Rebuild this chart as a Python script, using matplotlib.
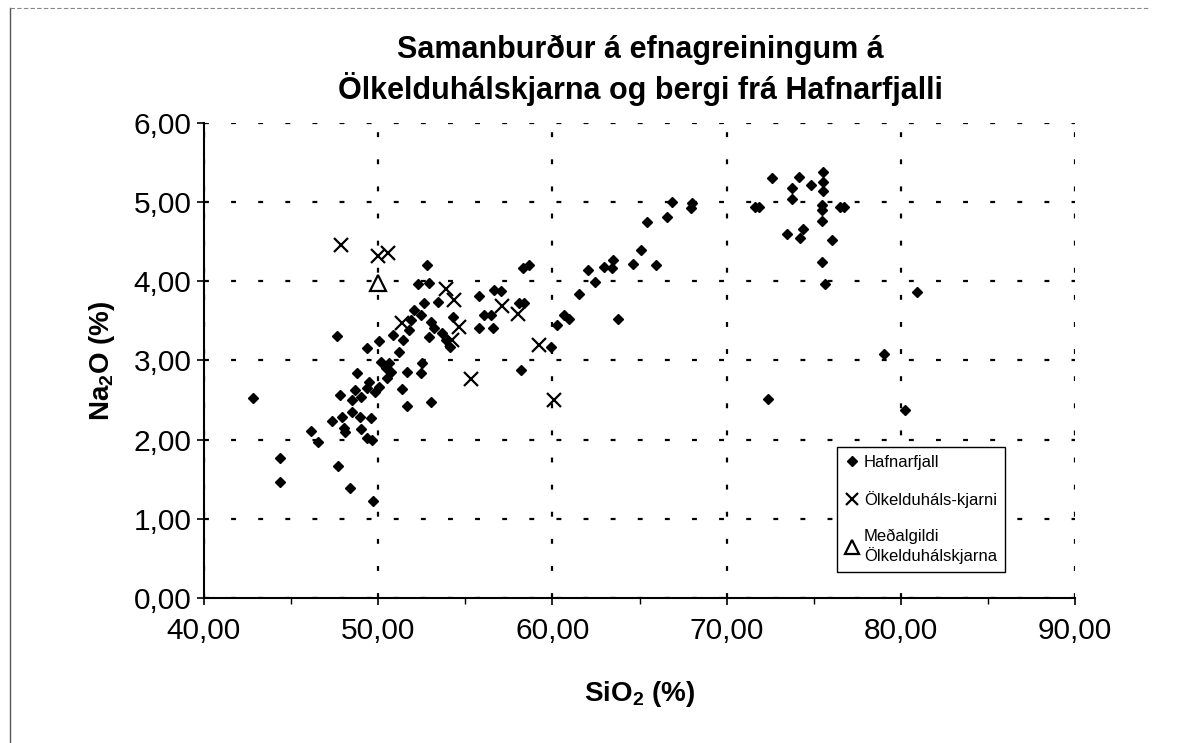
import matplotlib
matplotlib.use("Agg")
import matplotlib.pyplot as plt
from matplotlib.ticker import FuncFormatter, MultipleLocator
from matplotlib.lines import Line2D

# Hafnarfjall (SiO2 %, Na2O %)
haf_sio2 = [42.79, 44.34, 44.34, 46.12, 46.57, 47.32, 47.72, 47.66, 48.41, 49.73,
            47.95, 48.12, 47.78, 48.06, 48.47, 48.64, 48.52, 48.81, 49.04, 49.04,
            48.93, 49.33, 49.38, 49.61, 49.67, 49.79, 49.50, 49.33, 50.07, 50.18,
            50.07, 50.53, 50.76, 50.87, 51.22, 51.45, 51.67, 51.39, 51.67, 51.79,
            51.90, 52.07, 52.47, 52.65, 52.30, 52.93, 52.82, 53.05, 53.22, 52.93,
            52.53, 52.48, 53.05, 53.45, 53.68, 53.91, 54.14, 54.31, 55.80, 56.66,
            57.06, 56.09, 56.49, 55.80, 56.60, 58.09, 58.37, 58.20, 58.32, 58.66,
            59.92, 60.27, 60.67, 60.96, 61.53, 62.45, 62.05, 62.97, 63.43, 63.48,
            63.77, 64.63, 65.09, 65.43, 65.95, 66.58, 66.87, 67.96, 68.02, 71.62,
            71.85, 72.60, 72.37, 73.48, 73.77, 73.77, 74.17, 74.40, 74.22, 74.85,
            75.54, 75.54, 75.54, 75.48, 75.48, 75.48, 75.48, 75.65, 76.05, 76.51,
            76.74, 79.01, 80.21, 80.90, 50.63, 50.42]
haf_na2o = [2.53, 1.77, 1.47, 2.11, 1.97, 2.23, 1.67, 3.31, 1.39, 1.23,
            2.29, 2.10, 2.57, 2.15, 2.35, 2.63, 2.50, 2.84, 2.54, 2.13,
            2.29, 2.65, 2.02, 2.27, 2.00, 2.60, 2.73, 3.16, 3.24, 2.98,
            2.67, 2.78, 2.85, 3.32, 3.11, 3.26, 2.85, 2.64, 2.42, 3.39,
            3.51, 3.64, 3.58, 3.72, 3.97, 3.98, 4.20, 3.49, 3.41, 3.30,
            2.97, 2.84, 2.48, 3.74, 3.35, 3.26, 3.17, 3.55, 3.81, 3.89,
            3.88, 3.58, 3.58, 3.41, 3.41, 3.73, 3.73, 2.88, 4.17, 4.21,
            3.17, 3.45, 3.58, 3.52, 3.84, 3.99, 4.14, 4.18, 4.17, 4.27,
            3.53, 4.22, 4.40, 4.75, 4.21, 4.81, 5.00, 4.93, 4.99, 4.94,
            4.94, 5.31, 2.51, 4.60, 5.18, 5.04, 5.32, 4.66, 4.55, 5.22,
            5.38, 5.26, 5.14, 4.97, 4.90, 4.76, 4.25, 3.96, 4.52, 4.94,
            4.94, 3.08, 2.38, 3.86, 2.97, 2.91]

# Ölkelduháls-kjarni
olk_sio2 = [47.85, 49.98, 50.55, 51.38, 53.90, 54.37, 54.66, 54.25, 55.34, 57.10,
            58.00, 59.25, 60.10]
olk_na2o = [4.46, 4.32, 4.36, 3.47, 3.90, 3.76, 3.42, 3.26, 2.77, 3.69,
            3.59, 3.19, 2.50]

# Meðalgildi Ölkelduhálskjarna
avg_sio2 = [50.0]
avg_na2o = [3.98]

x_ticks = [40, 50, 60, 70, 80, 90]
y_ticks = [0, 1, 2, 3, 4, 5, 6]

title = "Samanburður á efnagreiningum á\nÖlkelduhálskjarna og bergi frá Hafnarfjalli"
labels = ["Hafnarfjall", "Ölkelduháls-kjarni", "Meðalgildi\nÖlkelduhálskjarna"]

plt.rcParams["font.family"] = ["Liberation Sans", "DejaVu Sans"]
plt.rcParams["mathtext.fontset"] = "custom"
plt.rcParams["mathtext.rm"] = "Liberation Sans"
plt.rcParams["mathtext.bf"] = "Liberation Sans:bold"


def comma_fmt(v, pos):
    return f"{v:.2f}".replace(".", ",")


fig = plt.figure(figsize=(12.04, 7.43), dpi=100)
ax = fig.add_axes([0.1694, 0.1952, 0.7236, 0.6393])

ax.plot(haf_sio2, haf_na2o, "D", color="black", markersize=5.2, label=labels[0],
        linestyle="none")
ax.plot(olk_sio2, olk_na2o, "x", color="black", markersize=9.5, markeredgewidth=1.6,
        label=labels[1], linestyle="none")
ax.plot(avg_sio2, avg_na2o, "^", markerfacecolor="white", markeredgecolor="black",
        markersize=11, markeredgewidth=1.6, label=labels[2], linestyle="none")

ax.set_xlim(40, 90)
ax.set_ylim(0, 6)
ax.set_xticks(x_ticks)
ax.set_yticks(y_ticks)
ax.xaxis.set_minor_locator(MultipleLocator(5))
ax.xaxis.set_major_formatter(FuncFormatter(comma_fmt))
ax.yaxis.set_major_formatter(FuncFormatter(comma_fmt))
ax.tick_params(axis="both", which="major", labelsize=21.5, direction="out",
               length=5, width=1.2, colors="black")
ax.tick_params(axis="x", which="minor", direction="out", length=4, width=1.0)
ax.tick_params(axis="x", pad=9)
ax.tick_params(axis="y", pad=4)

ax.grid(True, which="major", color="black", linewidth=1.6,
        linestyle=(0, (2.2, 10)))
ax.set_axisbelow(True)
for side in ["top", "right"]:
    ax.spines[side].set_visible(False)
for side in ["left", "bottom"]:
    ax.spines[side].set_linewidth(1.5)

ax.set_xlabel(r"SiO$_\mathbf{2}$ (%)", fontsize=20, fontweight="bold", labelpad=24)
ax.set_ylabel(r"Na$_\mathbf{2}$O (%)", fontsize=20, fontweight="bold", labelpad=12)

fig.text(0.532, 0.905, title, ha="center", va="center", fontsize=22,
         fontweight="bold", linespacing=1.25)

leg = ax.legend(loc="upper left", bbox_to_anchor=(0.727, 0.318), borderaxespad=0,
                fontsize=12, frameon=True, fancybox=False, edgecolor="black",
                handlelength=0.8, handletextpad=0.3, labelspacing=1.25,
                borderpad=0.5, markerscale=0.9)
leg.get_frame().set_linewidth(1.0)
leg.get_frame().set_alpha(1)

# outer chart border remnants
fig.add_artist(Line2D([10 / 1204, 10 / 1204], [0, 1 - 8 / 743],
                      color="#555555", linewidth=1.0))
fig.add_artist(Line2D([10 / 1204, 1150 / 1204], [1 - 8 / 743, 1 - 8 / 743],
                      color="#888888", linewidth=0.8, linestyle=(0, (4, 2))))

fig.savefig("out.png", dpi=100, facecolor="white")
